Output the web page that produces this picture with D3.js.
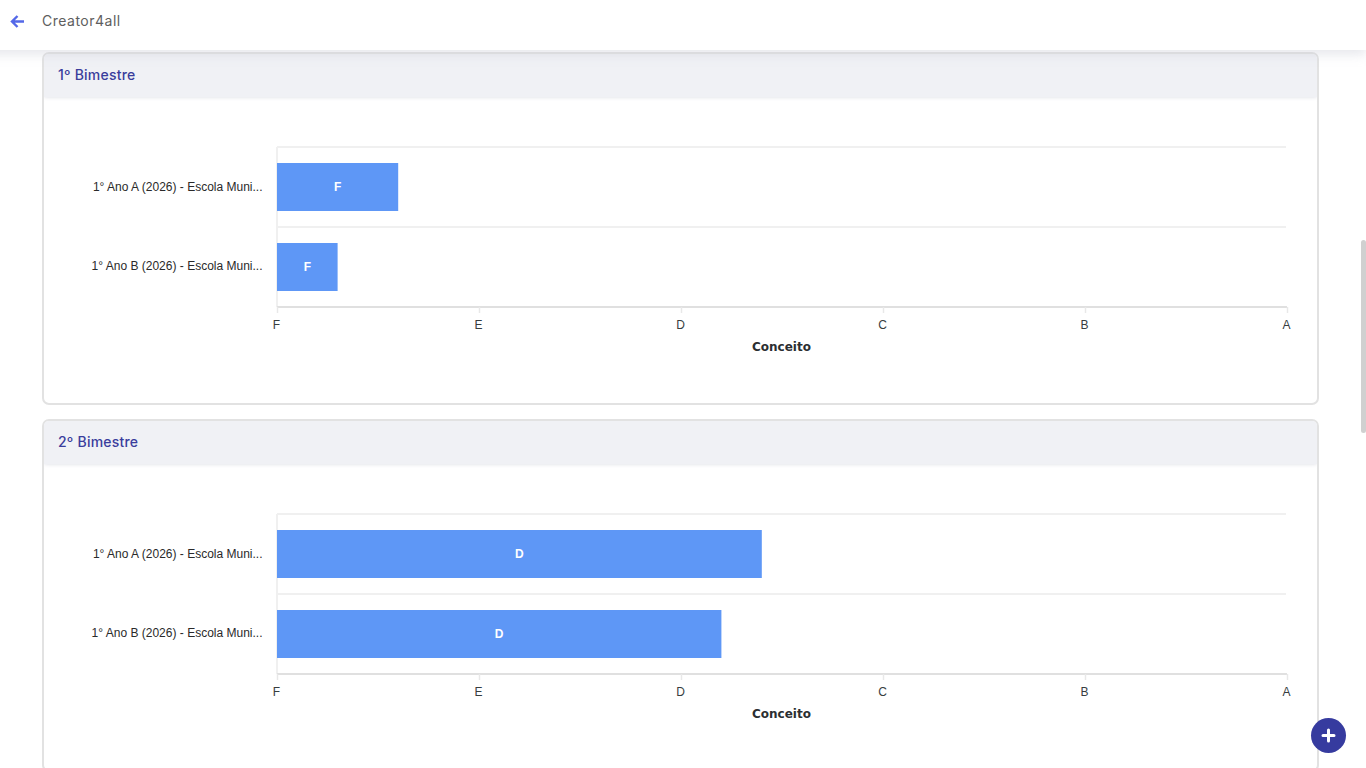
<!DOCTYPE html>
<html lang="pt">
<head>
<meta charset="utf-8">
<script src="https://cdn.jsdelivr.net/npm/d3@7"></script>
<style>
html,body{margin:0;padding:0;width:1366px;height:768px;overflow:hidden;background:#fff}
svg{display:block}
.lab{font-family:"Liberation Sans",Arial,sans-serif;font-size:12px;fill:#373d3f}
.ttl{font-family:Inter,"Open Sans",sans-serif;font-weight:500}
</style>
</head>
<body>
<svg id="c" width="1366" height="768"></svg>
<script>
const appTitle = "Creator4all";
const panelTitles = ["1º Bimestre", "2º Bimestre"];
const categories = ["1° Ano A (2026) - Escola Muni...", "1° Ano B (2026) - Escola Muni..."];
const grades = ["F", "E", "D", "C", "B", "A"];
const valuesBim1 = [0.6, 0.3];
const labelsBim1 = ["F", "F"];
const valuesBim2 = [2.4, 2.2];
const labelsBim2 = ["D", "D"];
const axisTitle = "Conceito";

const svg = d3.select("#c");
const defs = svg.append("defs");
const blur = defs.append("filter").attr("id","sh").attr("x","-5%").attr("y","-50%").attr("width","110%").attr("height","250%");
blur.append("feGaussianBlur").attr("stdDeviation",6);
const blur2 = defs.append("filter").attr("id","sh2").attr("x","-5%").attr("y","-50%").attr("width","110%").attr("height","250%");
blur2.append("feGaussianBlur").attr("stdDeviation",2);

const x = d3.scaleLinear().domain([0, grades.length-1]).range([277, 1287]);

function panel(top, title, values, labels){
  const g = svg.append("g");
  g.append("rect").attr("x",43).attr("y",top).attr("width",1275).attr("height",351)
    .attr("rx",6).attr("fill","#fff").attr("stroke","#e2e2e2").attr("stroke-width",2);
  const clip = "clip"+top;
  defs.append("clipPath").attr("id",clip).append("rect").attr("x",44).attr("y",top+1).attr("width",1273).attr("height",52);
  const head = g.append("g").attr("clip-path",`url(#${clip})`);
  head.append("rect").attr("x",44).attr("y",top+38).attr("width",1273).attr("height",6).attr("fill","#d9dae2").attr("filter","url(#sh2)");
  head.append("path").attr("d",`M44,${top+44}V${top+6}Q44,${top+1} 49,${top+1}H1312Q1317,${top+1} 1317,${top+6}V${top+44}Z`).attr("fill","#f0f1f5");
  g.append("text").attr("class","ttl").attr("x",58).attr("y",top+27).attr("font-size",14).attr("letter-spacing",0.22).attr("fill","#3a3d9c").text(title);

  const y0 = top+94, y1 = top+254;
  const y = d3.scaleBand().domain(categories).range([y0,y1]).paddingInner(0).paddingOuter(0);
  const barH = y.bandwidth()*0.6;
  g.selectAll(".gl").data(d3.range(categories.length)).join("line")
    .attr("x1",277).attr("x2",1286).attr("y1",i=>y0+i*y.bandwidth()).attr("y2",i=>y0+i*y.bandwidth())
    .attr("stroke","#f0f0f0").attr("stroke-width",2);
  g.append("line").attr("x1",277).attr("x2",277).attr("y1",y0).attr("y2",y1).attr("stroke","#f0f0f0").attr("stroke-width",2);
  g.selectAll(".bar").data(values).join("rect")
    .attr("x",x(0)).attr("y",(d,i)=>y(categories[i])+(y.bandwidth()-barH)/2)
    .attr("width",d=>x(d)-x(0)).attr("height",barH).attr("fill","#5e97f6");
  g.selectAll(".dl").data(values).join("text")
    .attr("x",d=>(x(d)+x(0))/2).attr("y",(d,i)=>y(categories[i])+y.bandwidth()/2+4)
    .attr("text-anchor","middle").attr("font-family","Liberation Sans, Arial, sans-serif").attr("font-size",12).attr("font-weight",700).attr("fill","#fff")
    .text((d,i)=>labels[i]);
  g.selectAll(".cl").data(categories).join("text").attr("class","lab")
    .attr("x",262.5).attr("y",(d,i)=>y(d)+y.bandwidth()/2+3.5-i).attr("text-anchor","end").style("fill","#2a2a2a").text(d=>d);
  const ax = g.append("g").attr("transform",`translate(0,${y1})`)
    .call(d3.axisBottom(x).tickValues(d3.range(grades.length)).tickFormat(i=>grades[i]).tickSize(6).tickPadding(6));
  ax.select(".domain").attr("stroke","#e0e0e0").attr("stroke-width",2).attr("d",`M277,0H1287`);
  ax.selectAll(".tick line").attr("stroke","#e8e8e8").attr("stroke-width",1.5);
  ax.selectAll(".tick text").attr("class","lab").attr("font-family",null).attr("font-size",null).attr("x",-1).attr("y",13).attr("dy","0.71em");
  g.append("text").attr("x",781.5).attr("y",y1+44).attr("text-anchor","middle")
    .attr("font-family","DejaVu Sans, sans-serif").attr("font-weight",700).attr("font-size",12)
    .attr("fill","#2b2f31").text(axisTitle);
}
panel(53, panelTitles[0], valuesBim1, labelsBim1);
panel(420, panelTitles[1], valuesBim2, labelsBim2);

// top bar
svg.append("rect").attr("x",-20).attr("y",40).attr("width",1386).attr("height",14).attr("fill","#c9cbd6").attr("opacity",.5).attr("filter","url(#sh)");
svg.append("rect").attr("x",0).attr("y",0).attr("width",1366).attr("height",50).attr("fill","#fff");
svg.append("path").attr("d","M24 21.5H12.5M17.5 16L12 21.5L17.5 27").attr("fill","none").attr("stroke","#5468e8").attr("stroke-width",2.4);
svg.append("text").attr("class","ttl").attr("x",42).attr("y",26).attr("font-size",14).attr("letter-spacing",0.5).attr("fill","#5e5e5e").style("font-weight",400).text(appTitle);

// scrollbar thumb
svg.append("rect").attr("x",1361).attr("y",240).attr("width",5).attr("height",193).attr("rx",2.5).attr("fill","#d0d0d0");
// floating button
svg.append("circle").attr("cx",1328.5).attr("cy",735.5).attr("r",17.5).attr("fill","#363b9f");
svg.append("path").attr("d","M1328.5 730V741M1323 735.5H1334").attr("stroke","#fff").attr("stroke-width",3).attr("stroke-linecap","round");
</script>
</body>
</html>
